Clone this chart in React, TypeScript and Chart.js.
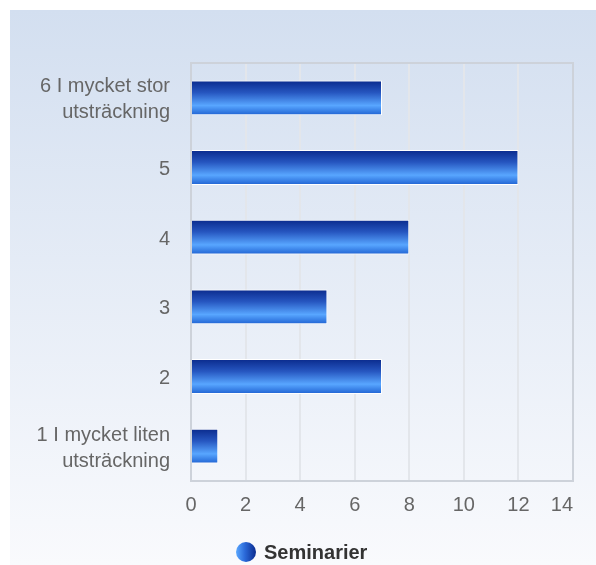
import React, { useEffect, useRef } from "react";
import { Chart, registerables } from "chart.js";

Chart.register(...registerables);

const categories: (string | string[])[] = [
  ["6 I mycket stor", "utsträckning"],
  "5",
  "4",
  "3",
  "2",
  ["1 I mycket liten", "utsträckning"],
];
const seriesName = "Seminarier";
const seriesValues = [7, 12, 8, 5, 7, 1];
const xTicks = [0, 2, 4, 6, 8, 10, 12, 14];

const FONT = "'Liberation Sans', Arial, Helvetica, sans-serif";
const BAR_PCT = 0.5;

export default function App() {
  const ref = useRef<HTMLCanvasElement | null>(null);

  useEffect(() => {
    document.body.style.margin = "0";
    const canvas = ref.current!;

    const bgPlugin = {
      id: "bgPanel",
      beforeDraw(chart: any) {
        const c = chart.ctx;
        const g = c.createLinearGradient(0, 10, 0, chart.height);
        g.addColorStop(0, "#d3dff0");
        g.addColorStop(1, "#f9fafd");
        c.save();
        c.fillStyle = "#ffffff";
        c.fillRect(0, 0, chart.width, chart.height);
        c.fillStyle = g;
        c.fillRect(10, 10, chart.width - 10, chart.height - 10);
        c.restore();
      },
      afterDatasetsDraw(chart: any) {
        const c = chart.ctx;
        const a = chart.chartArea;
        c.save();
        c.strokeStyle = "#cdd2da";
        c.lineWidth = 2;
        c.strokeRect(a.left, a.top, a.right - a.left, a.bottom - a.top);
        c.restore();
      },
      afterDraw(chart: any) {
        const c = chart.ctx;
        const cx = 246;
        const cy = 552;
        const r = 10;
        c.save();
        const g = c.createLinearGradient(cx - r, 0, cx + r, 0);
        g.addColorStop(0, "#5aa8ff");
        g.addColorStop(0.45, "#2a68d8");
        g.addColorStop(1, "#0a2b8f");
        c.fillStyle = g;
        c.beginPath();
        c.arc(cx, cy, r, 0, Math.PI * 2);
        c.fill();
        c.fillStyle = "#333333";
        c.font = `bold 20px ${FONT}`;
        c.textBaseline = "middle";
        c.textAlign = "left";
        c.fillText(seriesName, 264, cy + 1);
        c.restore();
      },
    };

    const barGradient = (ctx: any) => {
      const chart = ctx.chart;
      const area = chart.chartArea;
      if (!area || ctx.dataIndex === undefined) return "#2a60d0";
      const yScale = chart.scales.y;
      const yc = yScale.getPixelForValue(ctx.dataIndex);
      const h = ((area.bottom - area.top) / categories.length) * BAR_PCT;
      const g = chart.ctx.createLinearGradient(0, yc - h / 2, 0, yc + h / 2);
      g.addColorStop(0, "#0a2a8c");
      g.addColorStop(0.35, "#2656c0");
      g.addColorStop(0.72, "#58a6ff");
      g.addColorStop(1, "#1f62d2");
      return g;
    };

    const chart = new Chart(canvas, {
      type: "bar",
      data: {
        labels: categories,
        datasets: [
          {
            label: seriesName,
            data: seriesValues,
            backgroundColor: barGradient,
            borderColor: "#ffffff",
            borderWidth: 1,
            barPercentage: BAR_PCT,
            categoryPercentage: 1,
          },
        ],
      },
      options: {
        indexAxis: "y",
        animation: false,
        responsive: false,
        maintainAspectRatio: false,
        layout: { padding: { left: 10, top: 63, right: 23, bottom: 44 } },
        plugins: {
          legend: { display: false },
          tooltip: { enabled: false },
        },
        scales: {
          x: {
            min: 0,
            max: 14,
            afterBuildTicks(scale: any) {
              scale.ticks = xTicks.map((v) => ({ value: v }));
            },
            afterFit(scale: any) {
              scale.height = 40;
              scale.paddingRight = 0;
              scale.paddingLeft = 0;
            },
            grid: { color: "#e3e6eb", lineWidth: 2, drawTicks: false },
            border: { display: false },
            ticks: {
              color: "#666666",
              font: { family: FONT, size: 20 },
              padding: 12,
              callback: (v: any) => (v === 14 ? "14    " : String(v)),
            },
          },
          y: {
            afterFit(scale: any) {
              scale.width = 181;
            },
            grid: { display: false, drawTicks: false },
            border: { display: false },
            ticks: {
              color: "#666666",
              font: { family: FONT, size: 20, lineHeight: 1.3 },
              padding: 21,
              labelOffset: 2,
            },
          },
        },
      },
      plugins: [bgPlugin],
    } as any);

    return () => chart.destroy();
  }, []);

  return (
    <div style={{ width: 596, height: 565 }}>
      <canvas ref={ref} width={596} height={565} style={{ display: "block" }} />
    </div>
  );
}
